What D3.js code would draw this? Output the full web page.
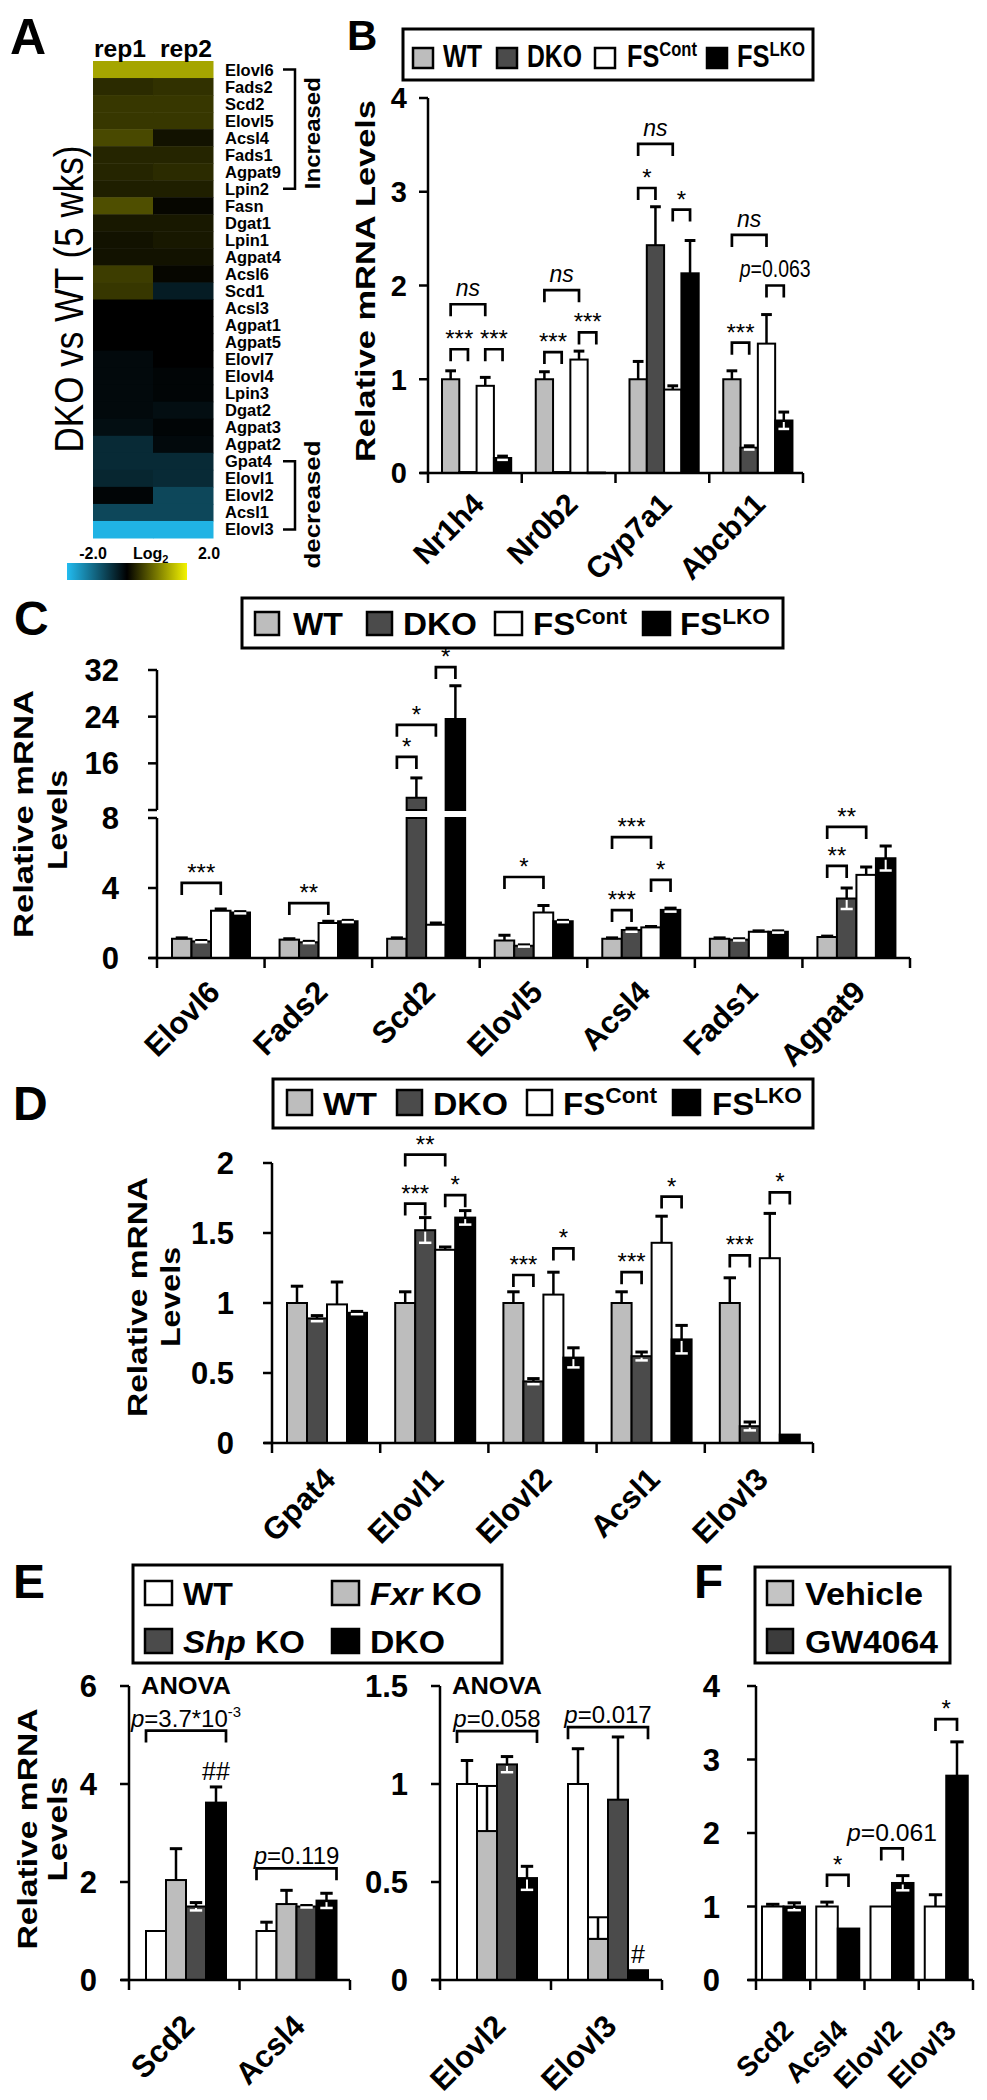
<!DOCTYPE html>
<html>
<head>
<meta charset="utf-8">
<script src="https://cdn.jsdelivr.net/npm/d3@7/dist/d3.min.js"></script>
<style>
html,body{margin:0;padding:0;background:#fff;}
svg{display:block;}
</style>
</head>
<body>
<svg id="fig" width="987" height="2100" xmlns="http://www.w3.org/2000/svg"></svg>
<script>
// ================= DATA =================
// Panel A : log2 ratio DKO vs WT (5 wks)
const heatGenes = ["Elovl6","Fads2","Scd2","Elovl5","Acsl4","Fads1","Agpat9","Lpin2","Fasn","Dgat1","Lpin1","Agpat4","Acsl6","Scd1","Acsl3","Agpat1","Agpat5","Elovl7","Elovl4","Lpin3","Dgat2","Agpat3","Agpat2","Gpat4","Elovl1","Elovl2","Acsl1","Elovl3"];
const heatReps = ["rep1","rep2"];
const heatRep1 = [1.35,0.35,0.45,0.45,0.6,0.3,0.3,0.25,0.65,0.2,0.15,0.15,0.5,0.45,0,0,0,-0.1,-0.1,-0.1,-0.1,-0.15,-0.45,-0.45,-0.4,-0.05,-0.75,-1.9];
const heatRep2 = [1.35,0.4,0.45,0.45,0.15,0.3,0.35,0.25,0.05,0.2,0.2,0.15,0.05,-0.3,0,0,0,0,-0.05,-0.05,-0.15,-0.05,-0.1,-0.45,-0.45,-0.75,-0.75,-1.9];
const heatDomain = [-2, 0, 2];
const heatTickLabels = ["-2.0", "2.0"];
const heatTitle = "DKO vs WT (5 wks)";
const heatGroups = [["Increased","Elovl6","Lpin2"],["decreased","Gpat4","Elovl3"]];

// Groups for B, C, D
const groupsFS = ["WT","DKO","FSCont","FSLKO"];

// Panel B
const bGenes = ["Nr1h4","Nr0b2","Cyp7a1","Abcb11"];
const bWT  = [1.0, 1.0, 1.0, 1.0],   bWTe  = [0.09, 0.08, 0.19, 0.09];
const bDKO = [0.01, 0.01, 2.43, 0.27], bDKOe = [0, 0, 0.41, 0.02];
const bFSC = [0.93, 1.21, 0.89, 1.38], bFSCe = [0.09, 0.09, 0.04, 0.31];
const bFSL = [0.16, 0.005, 2.13, 0.56], bFSLe = [0.02, 0, 0.35, 0.09];
const bTicks = [0, 1, 2, 3, 4];
const bBrackets = [
  ["Nr1h4",0,2,1.80,"ns"],["Nr1h4",0,1,1.32,"***"],["Nr1h4",2,3,1.32,"***"],
  ["Nr0b2",0,2,1.95,"ns"],["Nr0b2",0,1,1.29,"***"],["Nr0b2",2,3,1.50,"***"],
  ["Cyp7a1",0,2,3.51,"ns"],["Cyp7a1",0,1,3.04,"*"],["Cyp7a1",2,3,2.81,"*"],
  ["Abcb11",0,2,2.54,"ns"],["Abcb11",2,3,2.0,"p=0.063"],["Abcb11",0,1,1.39,"***"]
];

// Panel C
const cGenes = ["Elovl6","Fads2","Scd2","Elovl5","Acsl4","Fads1","Agpat9"];
const cWT  = [1.1, 1.05, 1.1, 1.0, 1.1, 1.1, 1.2],  cWTe  = [0.05, 0.05, 0.05, 0.3, 0.05, 0.05, 0.05];
const cDKO = [0.95, 0.9, 10.1, 0.7, 1.6, 1.05, 3.4], cDKOe = [0.05, 0.05, 3.4, 0.05, 0.1, 0.05, 0.6];
const cFSC = [2.7, 2.0, 1.9, 2.6, 1.75, 1.5, 4.75], cFSCe = [0.1, 0.1, 0.1, 0.4, 0.05, 0.05, 0.45];
const cFSL = [2.6, 2.1, 23.6, 2.1, 2.75, 1.5, 5.7], cFSLe = [0.05, 0.05, 5.7, 0.05, 0.1, 0.05, 0.7];
const cTicksLow = [0, 4, 8], cTicksHigh = [16, 24, 32];
const cBrackets = [
  ["Elovl6",0,2,4.29,"***"],["Fads2",0,2,3.14,"**"],
  ["Scd2",0,1,17.1,"*"],["Scd2",0,2,22.6,"*"],["Scd2",2,3,32.5,"*"],
  ["Elovl5",0,2,4.63,"*"],
  ["Acsl4",0,2,6.91,"***"],["Acsl4",0,1,2.74,"***"],["Acsl4",2,3,4.46,"*"],
  ["Agpat9",0,2,7.49,"**"],["Agpat9",0,1,5.26,"**"]
];

// Panel D
const dGenes = ["Gpat4","Elovl1","Elovl2","Acsl1","Elovl3"];
const dWT  = [1.0, 1.0, 1.0, 1.0, 1.0],    dWTe  = [0.12, 0.08, 0.08, 0.08, 0.18];
const dDKO = [0.89, 1.52, 0.44, 0.62, 0.12], dDKOe = [0.02, 0.09, 0.02, 0.03, 0.03];
const dFSC = [0.99, 1.38, 1.06, 1.43, 1.32], dFSCe = [0.16, 0.02, 0.16, 0.19, 0.32];
const dFSL = [0.93, 1.61, 0.61, 0.74, 0.06], dFSLe = [0.01, 0.05, 0.07, 0.1, 0];
const dTicks = [0, 0.5, 1, 1.5, 2];
const dBrackets = [
  ["Elovl1",0,2,2.06,"**"],["Elovl1",0,1,1.71,"***"],["Elovl1",2,3,1.77,"*"],
  ["Elovl2",0,1,1.20,"***"],["Elovl2",2,3,1.39,"*"],
  ["Acsl1",0,1,1.22,"***"],["Acsl1",2,3,1.76,"*"],
  ["Elovl3",0,1,1.34,"***"],["Elovl3",2,3,1.79,"*"]
];

// Panel E
const groupsE = ["WT","Fxr KO","Shp KO","DKO"];
const eGenesL = ["Scd2","Acsl4"];
const eWTL  = [1.0, 1.0],  eWTLe  = [0, 0.18];
const eFxrL = [2.04, 1.55], eFxrLe = [0.64, 0.28];
const eShpL = [1.5, 1.5],  eShpLe = [0.08, 0.02];
const eDKOL = [3.62, 1.62], eDKOLe = [0.32, 0.15];
const eTicksL = [0, 2, 4, 6];
const eBracketsL = [["Scd2",0,3,5.09,"p=3.7*10^-3"],["Acsl4",0,3,2.28,"p=0.119"]];
const eAnovaL = ["Scd2", 5.83];
const eMarksL = [["Scd2",3,4.08,"##"]];
const eGenesR = ["Elovl2","Elovl3"];
const eWTR  = [1.0, 1.0],   eWTRe  = [0.12, 0.18];
const eFxrR = [0.76, 0.21], eFxrRe = [0.23, 0.11];
const eShpR = [1.1, 0.92],  eShpRe = [0.04, 0.32];
const eDKOR = [0.52, 0.05], eDKORe = [0.06, 0];
const eTicksR = [0, 0.5, 1, 1.5];
const eBracketsR = [["Elovl2",0,3,1.27,"p=0.058"],["Elovl3",0,3,1.29,"p=0.017"]];
const eAnovaR = ["Elovl2", 1.46];
const eMarksR = [["Elovl3",3,0.087,"#"]];

// Panel F
const groupsF = ["Vehicle","GW4064"];
const fGenes = ["Scd2","Acsl4","Elovl2","Elovl3"];
const fVeh = [1.0, 1.0, 1.0, 1.0],   fVehe = [0.03, 0.06, 0, 0.16];
const fGW  = [1.0, 0.7, 1.32, 2.78], fGWe  = [0.05, 0, 0.1, 0.46];
const fTicks = [0, 1, 2, 3, 4];
const fBrackets = [["Acsl4",0,1,1.43,"*"],["Elovl2",0,1,1.79,"p=0.061"],["Elovl3",0,1,3.55,"*"]];

const yTitle = ["Relative mRNA", "Levels"];

// ================= DRAWING =================
const FONT = '"Liberation Sans", Arial, Helvetica, sans-serif';
const svg = d3.select("#fig");
svg.append("rect").attr("width", 987).attr("height", 2100).attr("fill", "#fff");

function T(g, x, y, s, o = {}) {
  const t = g.append("text").attr("x", x).attr("y", y)
    .attr("font-family", FONT).attr("font-size", o.size || 20)
    .attr("font-weight", o.weight || "bold")
    .attr("text-anchor", o.anchor || "start").attr("fill", "#000");
  if (s != null) t.text(s);
  if (o.italic) t.attr("font-style", "italic");
  if (o.len) t.attr("textLength", o.len).attr("lengthAdjust", "spacingAndGlyphs");
  if (o.rot) t.attr("transform", `rotate(${o.rot},${x},${y})`);
  return t;
}
// text horizontally scaled to a target width (keeps glyph height)
function fitText(parent, x, y, target, size, build, anchor) {
  const g = parent.append("g").attr("transform", `translate(${x},${y})`);
  const t = g.append("text").attr("x", 0).attr("y", 0).attr("font-family", FONT)
    .attr("font-size", size).attr("font-weight", "bold").attr("fill", "#000")
    .attr("text-anchor", anchor || "start");
  build(t);
  const L = t.node().getComputedTextLength();
  if (L > 0) g.attr("transform", `translate(${x},${y}) scale(${(target / L).toFixed(4)},1)`);
  return t;
}

function annot(g, x, y, label, size, target) {
  const build = t => {
    if (label.startsWith("p=")) {
      t.append("tspan").attr("font-style", "italic").text("p");
      const parts = label.slice(1).split("^");
      t.append("tspan").text(parts[0]);
      if (parts[1]) t.append("tspan").attr("font-size", size * 0.62).attr("dy", -size * 0.42).text(parts[1]);
    } else if (label === "ns") {
      t.attr("font-style", "italic").text(label);
    } else {
      t.text(label);
    }
  };
  if (target) {
    const t = fitText(g, x, y, target, size, build, "middle");
    t.attr("font-weight", "normal");
    const L = t.node().getComputedTextLength();
    t.node().parentNode.setAttribute("transform", `translate(${x},${y}) scale(${(target / L).toFixed(4)},1)`);
    return t;
  }
  const t = T(g, x, y, null, {size: size, anchor: "middle", weight: "normal"});
  build(t);
  return t;
}

// ---------- Panel labels ----------
[["A",10,54,50],["B",347,50,42],["C",14,635,48],["D",13,1120,48],["E",13,1598,48],["F",694,1598,48]]
  .forEach(([s,x,y,sz]) => T(svg, x, y, s, {size: sz}));

// ---------- Panel A : heatmap ----------
(function () {
  const g = svg.append("g");
  const color = d3.scaleLinear().domain(heatDomain).range(["#22bcf0", "#000000", "#f4f400"]).clamp(true);
  const yb = d3.scaleBand().domain(heatGenes).range([61, 538]);
  const xb = d3.scaleBand().domain(heatReps).range([93, 213]);
  const cols = [heatRep1, heatRep2];
  heatReps.forEach((r, ri) => {
    heatGenes.forEach((gn, gi) => {
      g.append("rect").attr("x", xb(r)).attr("y", yb(gn)).attr("width", xb.bandwidth() + 0.5)
        .attr("height", yb.bandwidth() + 0.5).attr("fill", color(cols[ri][gi]));
    });
    T(g, xb(r) + xb.bandwidth() / 2 - (ri === 0 ? 3 : -3), 57, r, {size: 23, anchor: "middle", len: 52});
  });
  heatGenes.forEach(gn => T(g, 225, yb(gn) + yb.bandwidth() / 2 + 6, gn, {size: 16.5}));
  // brackets
  heatGroups.forEach(([lab, g1, g2], i) => {
    const y1 = yb(g1) + yb.bandwidth() / 2, y2 = yb(g2) + yb.bandwidth() / 2;
    g.append("path").attr("d", `M283,${y1}H295V${y2}H283`).attr("fill", "none")
      .attr("stroke", "#000").attr("stroke-width", 2.5);
    const yc = i === 0 ? (y1 + y2) / 2 + 4 : y2 - 25;
    T(g, 320, yc, lab, {size: 22, anchor: "middle", rot: -90, len: i === 0 ? 112 : 128});
  });
  // title
  T(g, 83, 299, heatTitle, {size: 40, anchor: "middle", weight: "normal", rot: -90, len: 307});
  // color bar
  const defs = svg.append("defs");
  const lg = defs.append("linearGradient").attr("id", "cbar");
  heatDomain.forEach((d, i) => lg.append("stop").attr("offset", (i / 2 * 100) + "%").attr("stop-color", color(d)));
  const cb = d3.scaleLinear().domain([heatDomain[0], heatDomain[2]]).range([67, 187]);
  g.append("rect").attr("x", cb(-2)).attr("y", 563).attr("width", cb(2) - cb(-2)).attr("height", 17).attr("fill", "url(#cbar)");
  T(g, cb(-2) + 26, 559, heatTickLabels[0], {size: 16, anchor: "middle"});
  T(g, cb(2) + 22, 559, heatTickLabels[1], {size: 16, anchor: "middle"});
  const lt = T(g, 133, 559, "Log", {size: 16});
  lt.append("tspan").attr("font-size", 11).attr("dy", 4).text("2");
})();

// ---------- generic bar panel ----------
function barPanel(o) {
  const g = svg.append("g");
  const x = d3.scaleBand().domain(o.cats).range(o.xRange);
  const n = o.series.length;
  const xs = d3.scaleBand().domain(d3.range(n)).range([o.offset, o.offset + n * o.barW]);
  const y = o.y, y0 = y(0);
  const segs = o.segs || (v => [[y(v), y0]]);
  const capW = o.barW * 0.62;
  o.series.forEach((s, si) => {
    o.cats.forEach((c, ci) => {
      const v = s.vals[ci], e = s.errs[ci];
      const bx = x(c) + xs(si), cx = bx + o.barW / 2;
      segs(v).forEach(([t, b]) => {
        g.append("rect").attr("x", bx).attr("y", t).attr("width", o.barW)
          .attr("height", Math.max(b - t, 0.6)).attr("fill", s.fill)
          .attr("stroke", "#000").attr("stroke-width", 2);
      });
      if (e > 0) {
        if (s.box) {
          g.append("rect").attr("x", bx).attr("y", y(v + e)).attr("width", o.barW)
            .attr("height", y(v) - y(v + e)).attr("fill", "#fff").attr("stroke", "#000").attr("stroke-width", 2);
          g.append("line").attr("x1", cx).attr("x2", cx).attr("y1", y(v)).attr("y2", y(v + e))
            .attr("stroke", "#000").attr("stroke-width", 2.5);
        } else {
          g.append("line").attr("x1", cx).attr("x2", cx).attr("y1", y(v)).attr("y2", y(v + e))
            .attr("stroke", "#000").attr("stroke-width", 2.5);
          g.append("line").attr("x1", cx - capW / 2).attr("x2", cx + capW / 2).attr("y1", y(v + e)).attr("y2", y(v + e))
            .attr("stroke", "#000").attr("stroke-width", 3);
          const lowPx = y(v - e) - y(v);
          if (s.dark && v - e > 0 && lowPx <= 15) {
            g.append("line").attr("x1", cx).attr("x2", cx).attr("y1", y(v) + 1.5).attr("y2", y(v - e))
              .attr("stroke", "#fff").attr("stroke-width", 2);
            g.append("line").attr("x1", cx - capW / 2).attr("x2", cx + capW / 2).attr("y1", y(v - e)).attr("y2", y(v - e))
              .attr("stroke", "#fff").attr("stroke-width", 2.5);
          }
        }
      }
    });
  });
  // y axis
  const ax = o.xRange[0];
  (o.yLines || [[y0, y(o.yMax)]]).forEach(([a, b]) =>
    g.append("line").attr("x1", ax).attr("x2", ax).attr("y1", a).attr("y2", b).attr("stroke", "#000").attr("stroke-width", 2.5));
  o.yTickList.forEach(tk => {
    g.append("line").attr("x1", ax - 9).attr("x2", ax).attr("y1", tk.py).attr("y2", tk.py).attr("stroke", "#000").attr("stroke-width", 2.5);
    if (tk.label != null) T(g, ax - o.lblGap, tk.py + o.tickSize * 0.36, tk.label, {size: o.tickSize, anchor: "end"});
  });
  // x axis
  g.append("line").attr("x1", ax - 8).attr("x2", o.xRange[1]).attr("y1", y0).attr("y2", y0).attr("stroke", "#000").attr("stroke-width", 2.5);
  o.cats.map(c => x(c)).concat([o.xRange[1]]).forEach(px =>
    g.append("line").attr("x1", px).attr("x2", px).attr("y1", y0).attr("y2", y0 + 10).attr("stroke", "#000").attr("stroke-width", 2.5));
  o.cats.forEach(c => T(g, x(c) + x.bandwidth() / 2 + o.lblDx, y0 + o.lblDy, c, {size: o.catSize, anchor: "end", rot: -45}));
  // brackets
  (o.brackets || []).forEach(([c, a, b, lvl, lab]) => {
    let x1, x2;
    if (o.edgeBrackets) { x1 = x(c) + xs(a); x2 = x(c) + xs(b) + o.barW; }
    else { x1 = x(c) + xs(a) + o.barW / 2; x2 = x(c) + xs(b) + o.barW / 2; }
    const yt = y(lvl), leg = o.leg || 12;
    g.append("path").attr("d", `M${x1},${yt + leg}V${yt}H${x2}V${yt + leg}`).attr("fill", "none")
      .attr("stroke", "#000").attr("stroke-width", 2.7);
    const isStar = /^\*+$/.test(lab);
    const off = isStar ? 2 : (lab === "ns" ? 8 : o.pOff);
    annot(g, (x1 + x2) / 2, yt - off, lab, isStar ? o.starSize : o.textSize, (!isStar && lab !== "ns" && o.pLen) ? o.pLen[lab] : null);
  });
  return {g, x, xs, y};
}

function legendBox(x0, y0, x1, y1) {
  svg.append("rect").attr("x", x0).attr("y", y0).attr("width", x1 - x0).attr("height", y1 - y0)
    .attr("fill", "#fff").attr("stroke", "#000").attr("stroke-width", 3);
}
function swatch(x, y, w, h, fill) {
  svg.append("rect").attr("x", x).attr("y", y).attr("width", w).attr("height", h)
    .attr("fill", fill).attr("stroke", "#000").attr("stroke-width", 2.5);
}
const fillsFS = ["#bdbdbd", "#4b4b4b", "#ffffff", "#000000"];
function legendFS(box, sw, tx, lens, base, supRaise, size, supSize) {
  legendBox(...box);
  groupsFS.forEach((gname, i) => {
    swatch(sw[i][0], sw[i][1], sw[i][2], sw[i][3], fillsFS[i]);
    const isFS = gname.startsWith("FS");
    fitText(svg, tx[i], base, lens[i], size, t => {
      t.append("tspan").text(isFS ? "FS" : gname);
      if (isFS) t.append("tspan").attr("font-size", supSize).attr("dy", -supRaise).text(gname.slice(2));
    });
  });
}

// ---------- Panel B ----------
legendFS([403, 29, 813, 80],
  [[413,48,20,20],[497,48,20,20],[595,48,20,20],[707,48,20,20]],
  [443, 527, 627, 737], [39, 55, 70, 68], 67, 11, 32, 21);
(function () {
  const y = d3.scaleLinear().domain([0, 4]).range([473, 98]);
  barPanel({
    cats: bGenes, xRange: [428, 803], y: y, yMax: 4, barW: 17.3, offset: 14,
    series: [
      {vals: bWT, errs: bWTe, fill: fillsFS[0]}, {vals: bDKO, errs: bDKOe, fill: fillsFS[1], dark: true},
      {vals: bFSC, errs: bFSCe, fill: fillsFS[2]}, {vals: bFSL, errs: bFSLe, fill: fillsFS[3], dark: true}],
    yTickList: bTicks.map(t => ({py: y(t), label: String(t)})), lblGap: 21, tickSize: 29,
    lblDx: 11, lblDy: 33, catSize: 30,
    brackets: bBrackets, starSize: 24, textSize: 23, pOff: 9, pLen: {"p=0.063": 71}
  });
  T(svg, 375, 281, yTitle.join(" "), {size: 28, anchor: "middle", rot: -90, len: 362});
})();

// ---------- Panel C ----------
legendFS([242, 598, 783, 648],
  [[255,612,24,23],[367,612,25,23],[495,612,27,23],[643,612,27,23]],
  [293, 403, 533, 680], [50, 74, 94, 90], 635, 11, 32, 22);
(function () {
  const yLow = d3.scaleLinear().domain([0, 8]).range([958, 818]);
  const yUp = d3.scaleLinear().domain([8, 32]).range([810, 670]);
  const y = v => v <= 8 ? yLow(v) : yUp(v);
  const segs = v => v <= 8 ? [[yLow(v), yLow(0)]] : [[yLow(8), yLow(0)], [yUp(v), yUp(8)]];
  const ticks = cTicksLow.map(t => ({py: yLow(t), label: String(t)}))
    .concat([{py: yUp(8), label: null}])
    .concat(cTicksHigh.map(t => ({py: yUp(t), label: String(t)})));
  barPanel({
    cats: cGenes, xRange: [157, 910], y: y, segs: segs, barW: 19.5, offset: 15,
    yLines: [[yLow(0), yLow(8)], [yUp(8), yUp(32)]],
    series: [
      {vals: cWT, errs: cWTe, fill: fillsFS[0]}, {vals: cDKO, errs: cDKOe, fill: fillsFS[1], dark: true},
      {vals: cFSC, errs: cFSCe, fill: fillsFS[2]}, {vals: cFSL, errs: cFSLe, fill: fillsFS[3], dark: true}],
    yTickList: ticks, lblGap: 38, tickSize: 31,
    lblDx: 11, lblDy: 36, catSize: 31,
    brackets: cBrackets, starSize: 24, textSize: 23, pOff: 6
  });
  T(svg, 33, 814, yTitle[0], {size: 28, anchor: "middle", rot: -90, len: 248});
  T(svg, 67, 820, yTitle[1], {size: 28, anchor: "middle", rot: -90, len: 100});
})();

// ---------- Panel D ----------
legendFS([273, 1079, 813, 1128],
  [[287,1090,25,25],[397,1090,25,25],[527,1090,25,25],[673,1090,27,25]],
  [323, 433, 563, 712], [54, 75, 94, 90], 1115, 12, 32, 22);
(function () {
  const y = d3.scaleLinear().domain([0, 2]).range([1443, 1163]);
  barPanel({
    cats: dGenes, xRange: [272, 813], y: y, yMax: 2, barW: 20, offset: 15,
    series: [
      {vals: dWT, errs: dWTe, fill: fillsFS[0]}, {vals: dDKO, errs: dDKOe, fill: fillsFS[1], dark: true},
      {vals: dFSC, errs: dFSCe, fill: fillsFS[2]}, {vals: dFSL, errs: dFSLe, fill: fillsFS[3], dark: true}],
    yTickList: dTicks.map(t => ({py: y(t), label: String(t)})), lblGap: 38, tickSize: 31,
    lblDx: 11, lblDy: 38, catSize: 31,
    brackets: dBrackets, starSize: 24, textSize: 23, pOff: 6
  });
  T(svg, 147, 1297, yTitle[0], {size: 28, anchor: "middle", rot: -90, len: 240});
  T(svg, 180, 1297, yTitle[1], {size: 28, anchor: "middle", rot: -90, len: 100});
})();

// ---------- Panel E ----------
const fillsE = ["#ffffff", "#bdbdbd", "#4b4b4b", "#000000"];
legendBox(133, 1565, 502, 1663);
(function () {
  const pos = [[145, 1581, 183, 1605, 50], [332, 1581, 370, 1605, 112], [145, 1629, 183, 1653, 122], [332, 1629, 370, 1653, 75]];
  groupsE.forEach((gname, i) => {
    const [sx, sy, tx, ty, len] = pos[i];
    swatch(sx, sy, 27, 24, fillsE[i]);
    fitText(svg, tx, ty, len, 31, t => {
      const parts = gname.split(" ");
      if (parts.length > 1) {
        t.append("tspan").attr("font-style", "italic").text(parts[0]);
        t.append("tspan").text(" " + parts[1]);
      } else t.text(gname);
    });
  });
})();
function ePanel(cats, xr, yMax, ticks, vals, errs, brackets, anova, marks, boxFxr) {
  const y = d3.scaleLinear().domain([0, yMax]).range([1980, 1686]);
  const p = barPanel({
    cats: cats, xRange: xr, y: y, yMax: yMax, barW: 20, offset: 17,
    series: [
      {vals: vals[0], errs: errs[0], fill: fillsE[0]},
      {vals: vals[1], errs: errs[1], fill: fillsE[1], box: boxFxr},
      {vals: vals[2], errs: errs[2], fill: fillsE[2], dark: true},
      {vals: vals[3], errs: errs[3], fill: fillsE[3], dark: true}],
    yTickList: ticks.map(t => ({py: y(t), label: String(t)})), lblGap: 32, tickSize: 31,
    lblDx: 12, lblDy: 48, catSize: 31,
    brackets: brackets, edgeBrackets: true, starSize: 24, textSize: 24, pOff: 4, leg: 12
  });
  const bx = p.x(anova[0]) + p.xs(0), bx2 = p.x(anova[0]) + p.xs(3) + 20;
  T(p.g, (bx + bx2) / 2, y(anova[1]), "ANOVA", {size: 24, anchor: "middle", len: 90});
  marks.forEach(([c, si, lvl, lab]) => {
    T(p.g, p.x(c) + p.xs(si) + 10, y(lvl), lab, {size: 25, anchor: "middle", weight: "normal"});
  });
}
ePanel(eGenesL, [129, 350], 6, eTicksL, [eWTL, eFxrL, eShpL, eDKOL], [eWTLe, eFxrLe, eShpLe, eDKOLe], eBracketsL, eAnovaL, eMarksL, false);
ePanel(eGenesR, [440, 662], 1.5, eTicksR, [eWTR, eFxrR, eShpR, eDKOR], [eWTRe, eFxrRe, eShpRe, eDKORe], eBracketsR, eAnovaR, eMarksR, true);
T(svg, 37, 1829, yTitle[0], {size: 28, anchor: "middle", rot: -90, len: 241});
T(svg, 67, 1829, yTitle[1], {size: 28, anchor: "middle", rot: -90, len: 105});

// ---------- Panel F ----------
legendBox(755, 1567, 950, 1663);
[["#c4c4c4", 1581, 1605, 118], ["#3c3c3c", 1629, 1653, 133]].forEach(([f, sy, ty, len], i) => {
  swatch(767, sy, 26, 24, f);
  fitText(svg, 805, ty, len, 31, t => t.text(groupsF[i]));
});
(function () {
  const y = d3.scaleLinear().domain([0, 4]).range([1980, 1686]);
  barPanel({
    cats: fGenes, xRange: [756, 973], y: y, yMax: 4, barW: 21.5, offset: 6,
    series: [{vals: fVeh, errs: fVehe, fill: "#ffffff"}, {vals: fGW, errs: fGWe, fill: "#000000", dark: true}],
    yTickList: fTicks.map(t => ({py: y(t), label: String(t)})), lblGap: 36, tickSize: 31,
    lblDx: 12, lblDy: 52, catSize: 28,
    brackets: fBrackets, starSize: 24, textSize: 24, pOff: 7, pLen: {"p=0.061": 90}
  });
})();
</script>
</body>
</html>
